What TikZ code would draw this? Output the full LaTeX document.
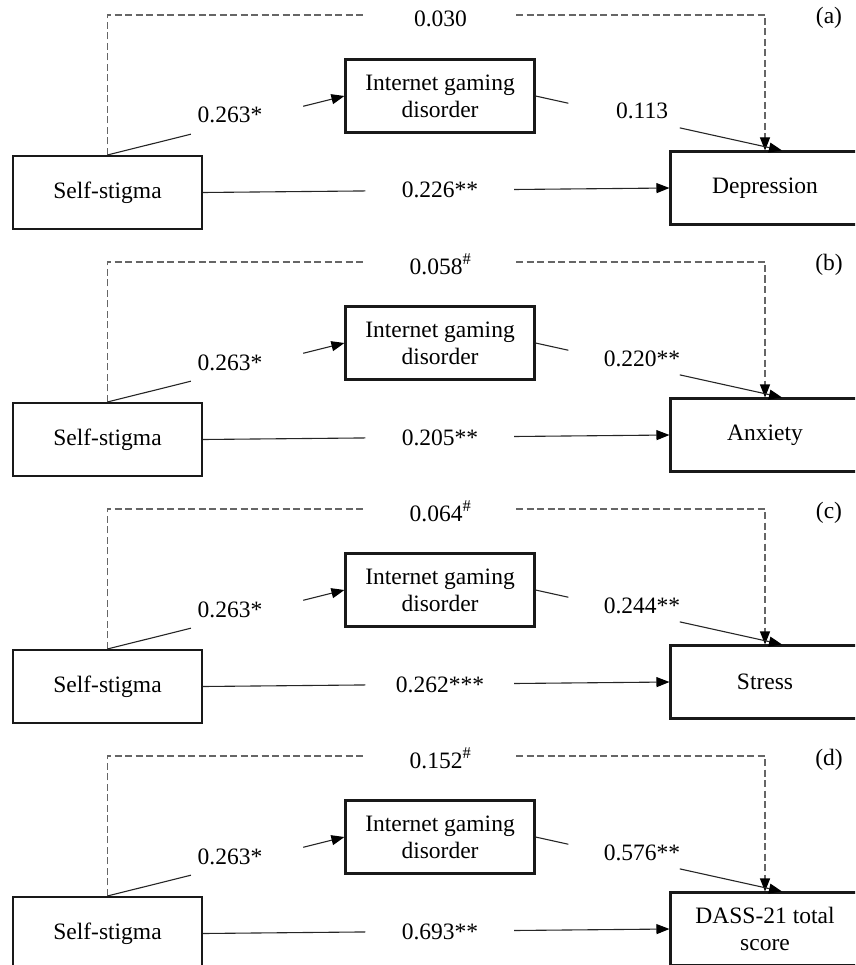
\documentclass[tikz,border=0pt]{standalone}
\usepackage{fontspec}
\setmainfont{Liberation Serif}
\usetikzlibrary{arrows.meta,calc}
\newcommand\figfont{\fontsize{23.5}{27}\selectfont}
\tikzset{
  box/.style={draw=black!90, line width=2.1pt, minimum width=189pt, minimum height=73pt, inner sep=0pt, align=center, font=\figfont},
  conn/.style={line width=1.1pt, draw=black!85},
  arr/.style={-{Triangle[length=13pt,width=10pt,color=black]}},
  dashline/.style={line width=1.1pt, draw=black!60, dash pattern=on 7pt off 3.5pt},
  lbl/.style={anchor=base, inner sep=0pt, font=\figfont},
}
\newcommand\drawpanel[6]{%
  \begin{scope}[yshift=-#1pt]
    \node[box] (ss#2) at (107.5,192.5) {Self-stigma};
    \node[box] (igd#2) at (440,96) {Internet gaming\\disorder};
    \node[box] (out#2) at (765,188) {#3};
    % dashed direct path
    \coordinate (tl#2) at (ss#2.north |- 0,15);
    \coordinate (tr#2) at (out#2.north |- 0,15);
    \coordinate (g1#2) at (366,15);
    \coordinate (g2#2) at (516,15);
    \draw[dashline] (ss#2.north) -- (tl#2) -- (g1#2);
    \draw[dashline,arr] (g2#2) -- (tr#2) -- (out#2.north);
    \node[lbl] (ld#2) at (440.5,27) {#4};
    \node[lbl] (lt#2) at (829,24) {(#2)};
    % path a
    \coordinate (a1#2) at ($(ss#2.north)!0.352!(igd#2.west)$);
    \coordinate (a2#2) at ($(ss#2.north)!0.826!(igd#2.west)$);
    \draw[conn] (ss#2.north) -- (a1#2);
    \draw[conn,arr] (a2#2) -- (igd#2.west);
    \node[lbl] (la#2) at (230,123) {0.263*};
    % path b
    \coordinate (bt#2) at ($(out#2.north)+(17,0)$);
    \coordinate (b1#2) at ($(igd#2.east)!0.133!(bt#2)$);
    \coordinate (b2#2) at ($(igd#2.east)!0.585!(bt#2)$);
    \draw[conn] (igd#2.east) -- (b1#2);
    \draw[conn,arr] (b2#2) -- (bt#2);
    \node[lbl] (lb#2) at (642,119) {#5};
    % direct path c
    \coordinate (c1#2) at ($(ss#2.east)!0.348!(out#2.west)$);
    \coordinate (c2#2) at ($(ss#2.east)!0.667!(out#2.west)$);
    \draw[conn] (ss#2.east) -- (c1#2);
    \draw[conn,arr] (c2#2) -- (out#2.west);
    \node[lbl] (lc#2) at (440,198) {#6};
  \end{scope}
}
\begin{document}
\begin{tikzpicture}[x=1pt,y=-1pt]
  \useasboundingbox (0,0) rectangle (855,965);
  \clip (0,0) rectangle (855,965);
  \drawpanel{0}{a}{Depression}{0.030}{0.113}{0.226**}
  \drawpanel{247}{b}{Anxiety}{0.058\textsuperscript{\#}}{0.220**}{0.205**}
  \drawpanel{494}{c}{Stress}{0.064\textsuperscript{\#}}{0.244**}{0.262***}
  \drawpanel{741}{d}{DASS-21 total\\score}{0.152\textsuperscript{\#}}{0.576**}{0.693**}
\end{tikzpicture}
\end{document}
